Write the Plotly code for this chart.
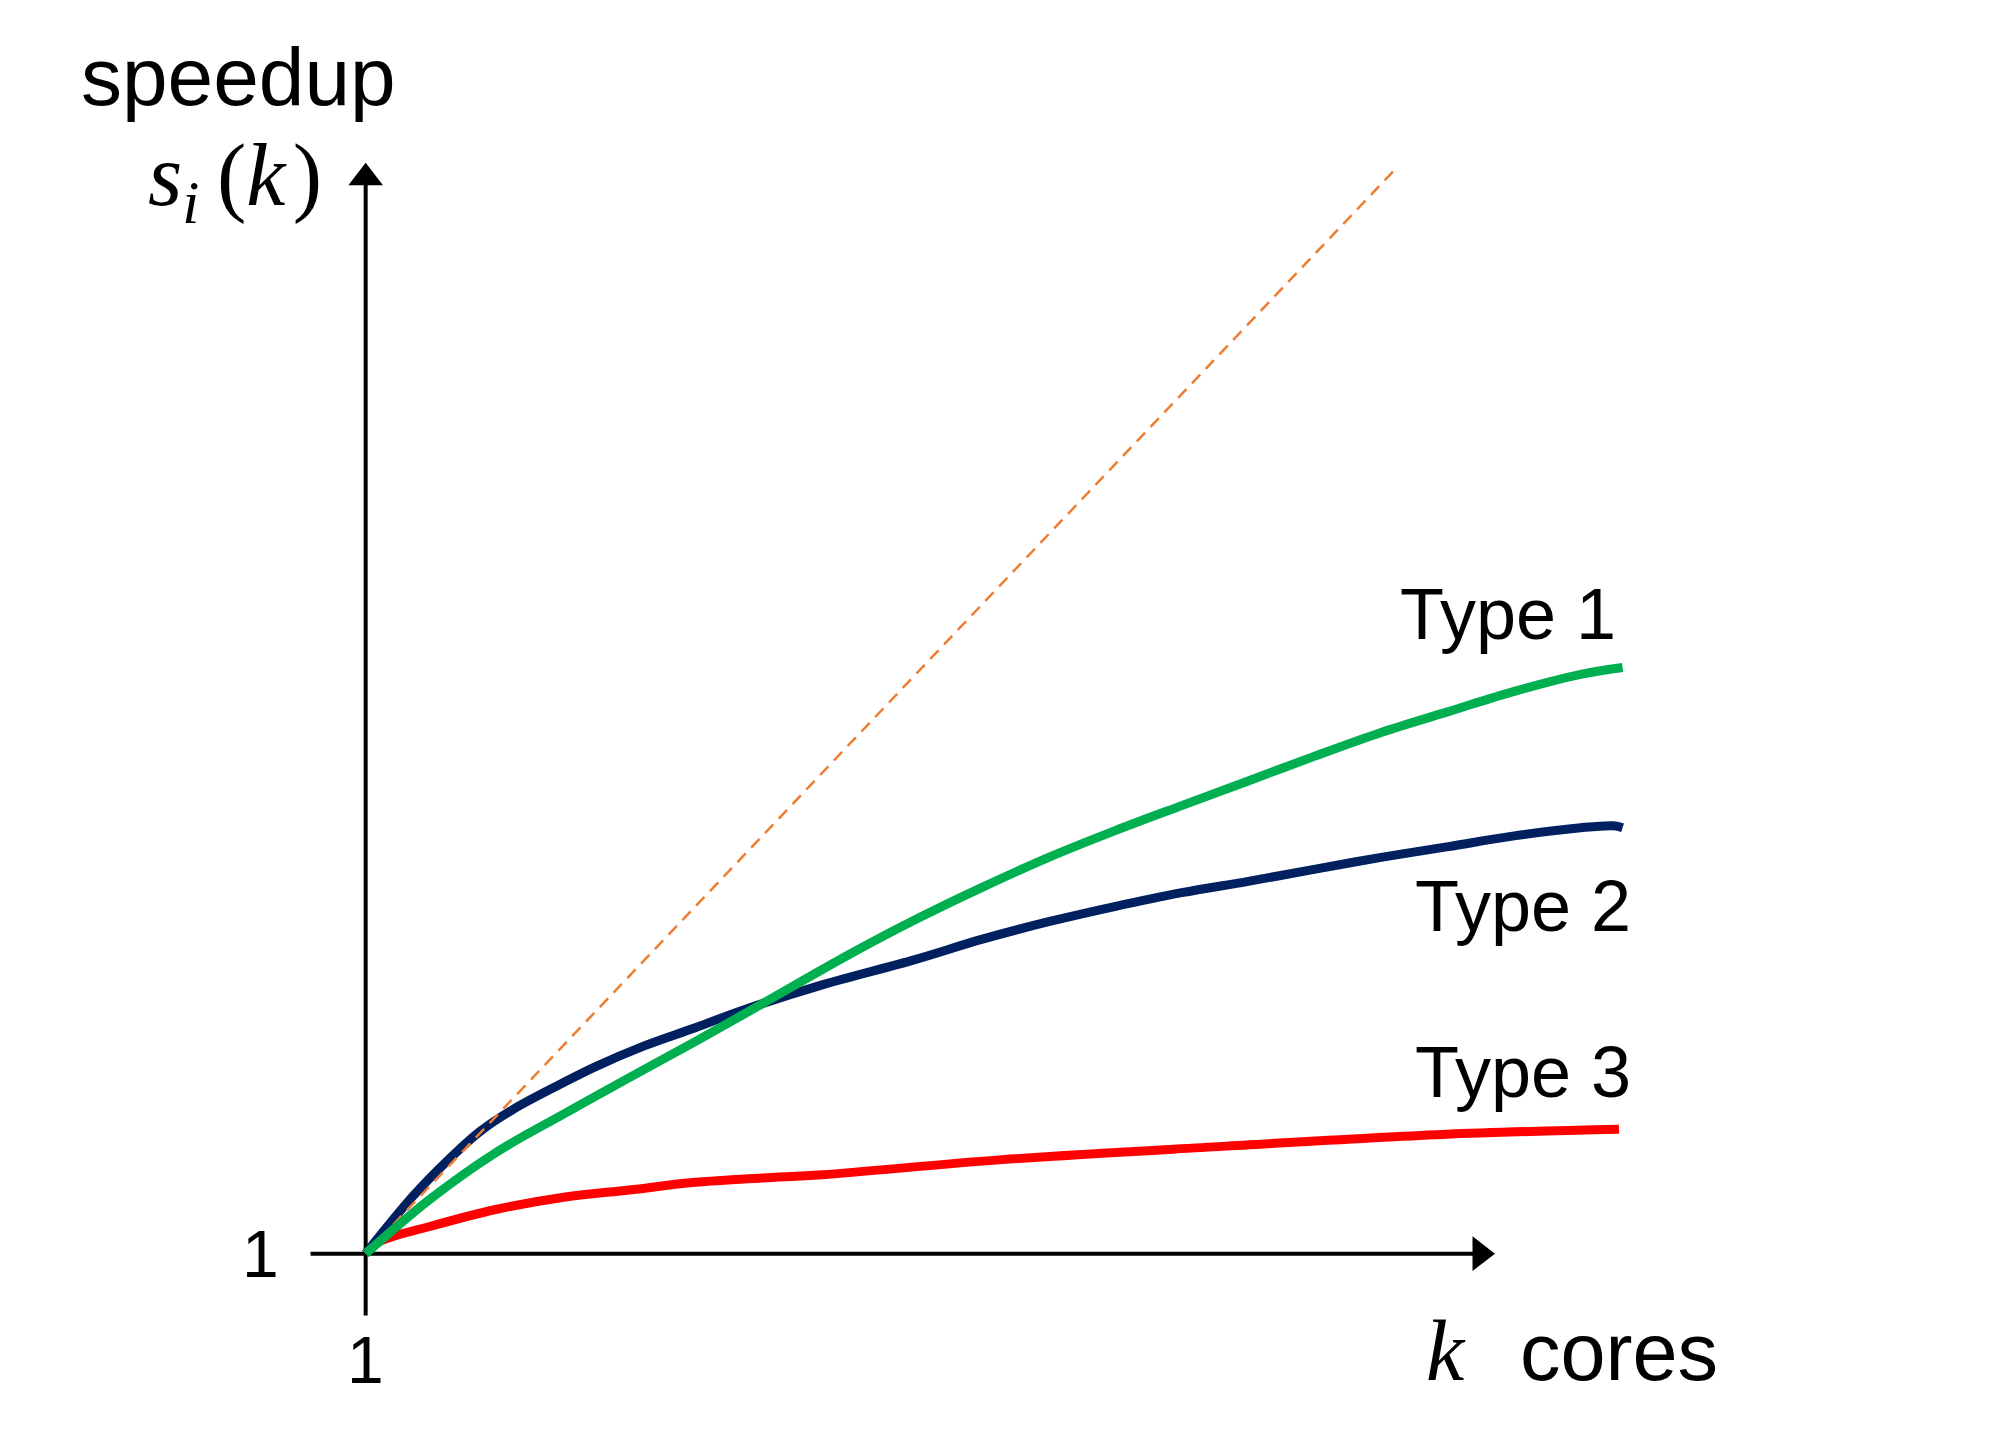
import plotly.graph_objects as go

# curve values (k = cores, s = speedup)
k_type1 = [1, 2.07, 3.17, 4.28, 5.4, 6.5, 7.62, 9.07, 10.17, 11.28, 12.4, 13.5, 14.62, 15.73, 16.83, 17.95, 19.07, 20.17, 21.28, 21.98]
s_type1 = [1, 1.86, 2.6, 3.2, 3.79, 4.36, 4.96, 5.74, 6.29, 6.8, 7.28, 7.7, 8.1, 8.49, 8.88, 9.26, 9.59, 9.91, 10.18, 10.29]

k_type2 = [1, 1.78, 2.33, 2.9, 3.45, 4.28, 4.83, 5.67, 6.5, 7.33, 8.62, 10.17, 11.28, 12.4, 13.5, 14.62, 15.73, 16.83, 17.95, 19.07, 20.17, 21.28, 21.83, 21.98]
s_type2 = [1, 1.9, 2.44, 2.93, 3.28, 3.7, 3.96, 4.3, 4.58, 4.87, 5.26, 5.66, 5.98, 6.26, 6.5, 6.72, 6.9, 7.09, 7.28, 7.45, 7.62, 7.75, 7.78, 7.75]

k_type3 = [1, 1.23, 2.07, 3.17, 4.28, 5.4, 6.5, 7.62, 8.62, 11.62, 15.3, 18.97, 21.92]
s_type3 = [1, 1.19, 1.43, 1.7, 1.89, 2.01, 2.13, 2.2, 2.25, 2.49, 2.7, 2.89, 2.97]

k_ideal = [1, 18.2]
s_ideal = [1, 18.2]

# axis extents in data units
x_axis_k = [0.08, 19.6]
y_axis_s = [0.02, 18.05]

fig = go.Figure()

# axes with arrow heads
fig.add_trace(go.Scatter(x=x_axis_k, y=[1, 1], mode='lines',
                         line=dict(color='black', width=4), hoverinfo='skip'))
fig.add_trace(go.Scatter(x=[1, 1], y=y_axis_s, mode='lines',
                         line=dict(color='black', width=4), hoverinfo='skip'))
fig.add_trace(go.Scatter(x=[x_axis_k[1]], y=[1], mode='markers',
                         marker=dict(symbol='triangle-right', size=30, color='black'), hoverinfo='skip'))
fig.add_trace(go.Scatter(x=[1], y=[y_axis_s[1]], mode='markers',
                         marker=dict(symbol='triangle-up', size=30, color='black'), hoverinfo='skip'))

# curves
fig.add_trace(go.Scatter(x=k_type3, y=s_type3, mode='lines', line_shape='spline',
                         line=dict(color='#FF0000', width=9)))
fig.add_trace(go.Scatter(x=k_type2, y=s_type2, mode='lines', line_shape='spline',
                         line=dict(color='#002060', width=9)))
fig.add_trace(go.Scatter(x=k_ideal, y=s_ideal, mode='lines',
                         line=dict(color='#ED7D31', width=2.5, dash='12px,8px')))
fig.add_trace(go.Scatter(x=k_type1, y=s_type1, mode='lines', line_shape='spline',
                         line=dict(color='#00B050', width=9)))

sans = 'Liberation Sans, Arial, sans-serif'
serif = 'Liberation Serif, DejaVu Serif, serif'

annotations = [
    dict(x=-1.12, y=19.65, text='speedup', font=dict(family=sans, size=82), xanchor='center'),
    dict(x=0.3, y=17.99, text='<i>s</i><sub><i>i</i></sub>&#8201;(<i>k</i>&#8202;)', font=dict(family=serif, size=88), xanchor='right'),
    dict(x=20.07, y=11.14, text='Type 1', font=dict(family=sans, size=72), xanchor='center'),
    dict(x=20.32, y=6.51, text='Type 2', font=dict(family=sans, size=72), xanchor='center'),
    dict(x=20.32, y=3.88, text='Type 3', font=dict(family=sans, size=72), xanchor='center'),
    dict(x=-0.75, y=1.0, text='1', font=dict(family=sans, size=66), xanchor='center'),
    dict(x=1, y=-0.68, text='1', font=dict(family=sans, size=66), xanchor='center'),
    dict(x=19.03, y=-0.54, text='<i>k</i>', font=dict(family=serif, size=86), xanchor='center'),
    dict(x=21.92, y=-0.56, text='cores', font=dict(family=sans, size=81), xanchor='center'),
]
for a in annotations:
    a.update(xref='x', yref='y', showarrow=False, yanchor='middle')
    a['font']['color'] = 'black'

fig.update_layout(
    width=2007, height=1452,
    margin=dict(l=0, r=0, t=0, b=0),
    paper_bgcolor='white', plot_bgcolor='white',
    showlegend=False,
    annotations=annotations,
    xaxis=dict(range=[-4.97, 28.53], visible=False),
    yaxis=dict(range=[-2.27, 20.74], visible=False),
)

fig.write_html("out.html")
